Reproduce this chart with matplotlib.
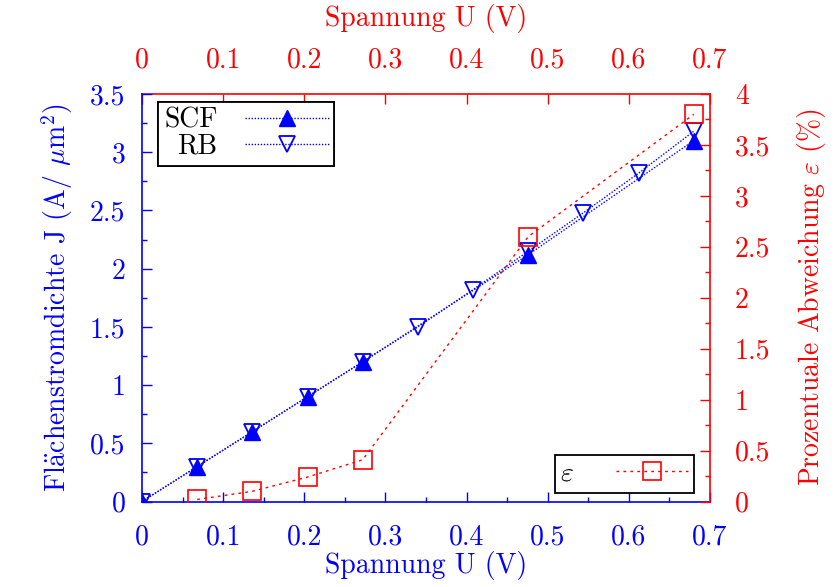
import matplotlib
matplotlib.use("Agg")
import matplotlib.pyplot as plt
from matplotlib.ticker import MultipleLocator, FormatStrFormatter

plt.rcParams['font.family'] = ['cmr10', 'DejaVu Serif']
plt.rcParams['mathtext.fontset'] = 'cm'
plt.rcParams['axes.unicode_minus'] = False
plt.rcParams['axes.formatter.use_mathtext'] = True

# Data
u_scf = [0.0, 0.068, 0.136, 0.204, 0.272, 0.476, 0.68]
j_scf = [0.0, 0.30, 0.60, 0.90, 1.20, 2.12, 3.10]
u_rb = [0.0, 0.068, 0.136, 0.204, 0.272, 0.34, 0.408, 0.476, 0.544, 0.612, 0.68]
j_rb = [0.0, 0.30, 0.60, 0.90, 1.20, 1.50, 1.82, 2.15, 2.48, 2.82, 3.18]
u_eps = [0.068, 0.136, 0.204, 0.272, 0.476, 0.68]
eps = [0.02, 0.10, 0.24, 0.41, 2.60, 3.80]

BLUE = '#0000ff'
RED = '#ff0000'
FS = 20

fig = plt.figure(figsize=(8.37, 5.87), dpi=100)
ax = fig.add_axes([142/837, 1 - 501.5/587, 568/837, 407.5/587])
ax2 = ax.twinx()

l1, = ax.plot(u_scf, j_scf, linestyle=(0, (1, 1.2)), lw=1.0, color=BLUE,
              marker='^', ms=11, mfc=BLUE, mec=BLUE, label='SCF', zorder=3)
l2, = ax.plot(u_rb, j_rb, linestyle=(0, (1, 1.2)), lw=1.0, color=BLUE,
              marker='v', ms=11, mfc='none', mec=BLUE, mew=1.3, label='RB', zorder=3)
l3, = ax2.plot(u_eps, eps, linestyle=(0, (2, 3)), lw=1.0, color=RED,
               marker='s', ms=13, mfc='none', mec=RED, mew=1.2,
               label=r'$\varepsilon$', zorder=3)

ax.set_xlim(0, 0.7)
ax.set_ylim(0, 3.5)
ax2.set_ylim(0, 4)

ax.xaxis.set_major_locator(MultipleLocator(0.1))
ax.xaxis.set_minor_locator(MultipleLocator(0.05))
ax.yaxis.set_major_locator(MultipleLocator(0.5))
ax.yaxis.set_minor_locator(MultipleLocator(0.25))
ax2.yaxis.set_major_locator(MultipleLocator(0.5))
ax2.yaxis.set_minor_locator(MultipleLocator(0.25))
for a in (ax.xaxis, ax.yaxis, ax2.yaxis):
    a.set_major_formatter(FormatStrFormatter('%g'))

ax.tick_params(axis='both', which='both', direction='in', colors=BLUE,
               labelsize=FS, top=False, right=False)
ax.tick_params(axis='x', which='major', length=7, width=1, pad=16)
ax.tick_params(axis='x', which='minor', length=3.5, width=1)
ax.tick_params(axis='y', which='major', length=7, width=1, pad=12)
ax.tick_params(axis='y', which='minor', length=3.5, width=1)
ax2.tick_params(axis='y', which='both', direction='in', colors=RED, labelsize=FS)
ax2.tick_params(axis='y', which='major', length=7, width=1, pad=18)
ax2.tick_params(axis='y', which='minor', length=3.5, width=1)

for s in ('top', 'right'):
    ax.spines[s].set_visible(False)
ax.spines['left'].set_color(BLUE)
ax.spines['bottom'].set_color(BLUE)
for s in ('left', 'bottom', 'top'):
    ax2.spines[s].set_visible(False)
ax2.spines['right'].set_color(RED)
for s in ax.spines.values():
    s.set_linewidth(1.2)
ax2.spines['right'].set_linewidth(1.2)

sec = ax.secondary_xaxis('top')
sec.xaxis.set_major_locator(MultipleLocator(0.1))
sec.xaxis.set_major_formatter(FormatStrFormatter('%g'))
sec.tick_params(axis='x', which='major', direction='in', colors=RED,
                labelsize=FS, length=7, width=1, pad=15)
sec.tick_params(axis='x', which='minor', length=0)
sec.spines['top'].set_color(RED)
sec.spines['top'].set_linewidth(1.2)
sec.set_xlabel('Spannung U (V)', color=RED, fontsize=FS, labelpad=15)

ax.set_xlabel('Spannung U (V)', color=BLUE, fontsize=FS, labelpad=1)
ax.set_ylabel(r'Fl$\ddot{\mathrm{a}}$chenstromdichte J (A/ $\mu$m$^2$)', color=BLUE,
              fontsize=FS, labelpad=11)
ax2.set_ylabel(r'Prozentuale Abweichung $\varepsilon$ (%)', color=RED, fontsize=FS,
               labelpad=18)

leg1 = ax.legend(handles=[l1, l2], loc='upper left', bbox_to_anchor=(0.029, 0.981),
                 borderaxespad=0, markerfirst=False, numpoints=1, fontsize=FS,
                 handlelength=3.0, fancybox=False, framealpha=1, edgecolor='black',
                 borderpad=0.2, labelspacing=0.0, handletextpad=1.0)
leg1.get_frame().set_linewidth(1.3)
ax.add_artist(leg1)
leg2 = ax2.legend(handles=[l3], loc='lower right', bbox_to_anchor=(0.971, 0.022),
                  borderaxespad=0, markerfirst=False, numpoints=1, fontsize=FS,
                  handlelength=2.6, fancybox=False, framealpha=1, edgecolor='black',
                  borderpad=0.2, handletextpad=1.5)
leg2.get_frame().set_linewidth(1.3)

fig.savefig('out.png', dpi=100)
